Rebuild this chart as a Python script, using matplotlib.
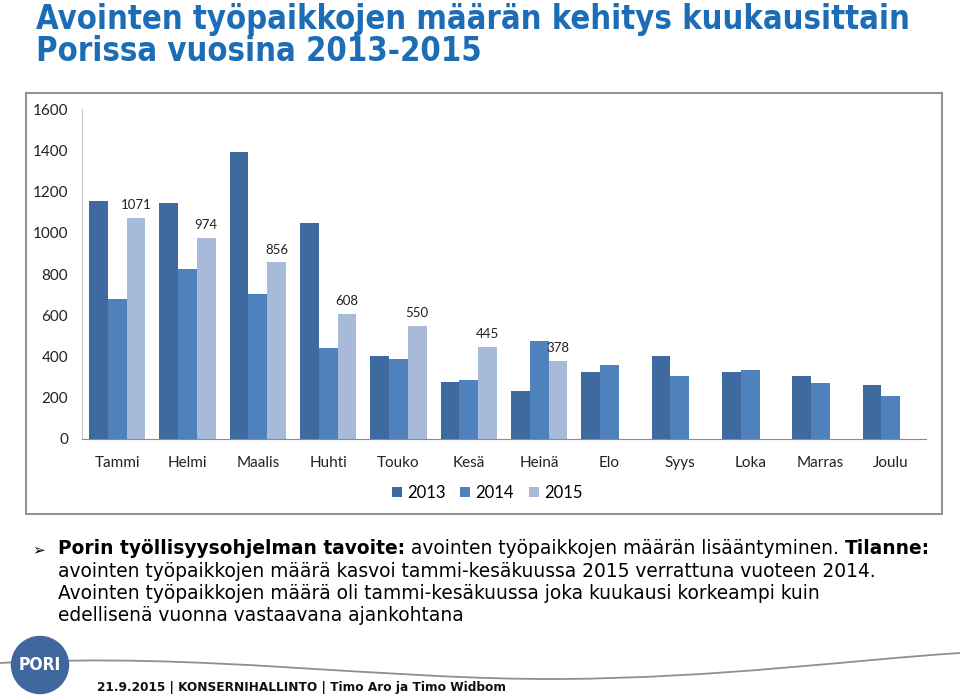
import matplotlib
matplotlib.use('Agg')
import matplotlib.pyplot as plt
import numpy as np
from matplotlib.patches import Rectangle, Circle, PathPatch
from matplotlib.path import Path

#-----------------------------------------------------------
months=['Tammi','Helmi','Maalis','Huhti','Touko','Kesä','Heinä','Elo','Syys','Loka','Marras','Joulu']
v2013=[1154,1143,1393,1047,401,275,233,323,404,323,307,260]
v2014=[677,826,701,443,386,286,474,360,304,335,272,210]
v2015=[1071,974,856,608,550,445,378]
years=['2013','2014','2015']
colors=['#3f6a9f','#4f81bd','#a8bad9']

title=['Avointen työpaikkojen määrän kehitys kuukausittain','Porissa vuosina 2013-2015']
footer='21.9.2015 | KONSERNIHALLINTO | Timo Aro ja Timo Widbom'

#-----------------------------------------------------------
W, H = 960, 697
fig = plt.figure(figsize=(W/100, H/100), dpi=100)
fig.patch.set_facecolor('white')

# overlay axes in pixel coords (top-left origin)
ov = fig.add_axes([0, 0, 1, 1], zorder=0)
ov.set_xlim(0, W)
ov.set_ylim(H, 0)
ov.axis('off')

# chart frame
ov.add_patch(Rectangle((26, 93), 916, 421, fill=False, ec='#8c969e', lw=1.5))

# title
for i, line in enumerate(title):
	ov.text(36, 29+32*i, line, fontsize=23.5, weight='bold', stretch='condensed', color='#1c6db6', family='DejaVu Sans', va='baseline')

#-----------------------------------------------------------
ax = fig.add_axes([82/W, 1-439/H, 844/W, 330/H], zorder=1)
ax.patch.set_alpha(0)
x=np.arange(len(months))
bw=0.8/3
series=[v2013, v2014, v2015]
for k, (vals, c, yr) in enumerate(zip(series, colors, years)):
	xs=x[:len(vals)]+(k-1)*bw
	bars=ax.bar(xs, vals, width=bw, color=c, label=yr, zorder=2)
	if yr=='2015':
		for b, v in zip(bars, vals):
			ax.annotate(str(v), (b.get_x()+b.get_width()/2, v), xytext=(0, 5), textcoords='offset points',
				ha='center', va='bottom', fontsize=9.5, family='Lato', color='#222222')

ax.set_xlim(-0.5, 11.5)
ax.set_ylim(0, 1600)
ax.set_yticks(range(0, 1601, 200))
ax.set_xticks(x)
ax.set_xticklabels(months)
ax.tick_params(length=0, labelsize=11, labelcolor='#222222')
ax.tick_params(axis='y', pad=10)
ax.tick_params(axis='x', pad=12)
for lab in ax.get_xticklabels()+ax.get_yticklabels():
	lab.set_family('Lato')
for s in ['top','right']:
	ax.spines[s].set_visible(False)
ax.spines['left'].set_color('#c8c8c8')
ax.spines['bottom'].set_color('#8c8c8c')

fig.legend(*ax.get_legend_handles_labels(), loc='center', bbox_to_anchor=(487/W, 1-493/H), ncol=3, frameon=False,
	prop={'family':'Lato','size':12}, handlelength=0.6, handleheight=0.6, handletextpad=0.3, columnspacing=0.9)

#-----------------------------------------------------------
# bullet text
fs=13.4
ov.text(32, 554, '➢', fontsize=11, family='DejaVu Sans', va='baseline')
t1=ov.text(58, 554, 'Porin työllisyysohjelman tavoite:', fontsize=fs, weight='bold', va='baseline', family='DejaVu Sans')
t2=ov.annotate(' avointen työpaikkojen määrän lisääntyminen. ', xy=(1, 0), xycoords=t1, va='bottom', ha='left',
	fontsize=fs, family='DejaVu Sans')
ov.annotate('Tilanne:', xy=(1, 0), xycoords=t2, va='bottom', ha='left', fontsize=fs, weight='bold', family='DejaVu Sans')
lines=['avointen työpaikkojen määrä kasvoi tammi-kesäkuussa 2015 verrattuna vuoteen 2014.',
	'Avointen työpaikkojen määrä oli tammi-kesäkuussa joka kuukausi korkeampi kuin',
	'edellisenä vuonna vastaavana ajankohtana']
for i, l in enumerate(lines):
	ov.text(58, 577+22*i, l, fontsize=fs, va='baseline', family='DejaVu Sans')

#-----------------------------------------------------------
# footer wave line
verts=[(0, 663), (200, 652), (380, 680), (560, 679), (720, 678), (850, 660), (960, 653)]
codes=[Path.MOVETO, Path.CURVE4, Path.CURVE4, Path.CURVE4, Path.CURVE4, Path.CURVE4, Path.CURVE4]
ov.add_patch(PathPatch(Path(verts, codes), fill=False, ec='#8a8f94', lw=1.3))

# logo
ov.add_patch(Circle((40, 665), 28.5, color='#3f679d', zorder=3))
ov.text(40, 665, 'PORI', color='white', fontsize=12.5, weight='bold', stretch='condensed', family='DejaVu Sans',
	ha='center', va='center', zorder=4)

ov.text(97, 691, footer, fontsize=9.7, weight='bold', stretch='condensed', family='DejaVu Sans', va='baseline', color='#111111')

plt.savefig('out.png', dpi=100)
plt.close()
